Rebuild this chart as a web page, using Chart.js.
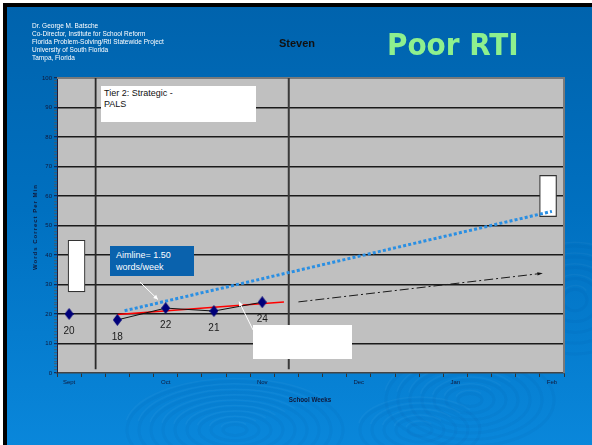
<!DOCTYPE html>
<html><head><meta charset="utf-8">
<script src="https://cdn.jsdelivr.net/npm/chart.js@4"></script>
<style>
html,body{margin:0;padding:0;background:#fff;width:592px;height:445px;overflow:hidden;}
#slide{position:absolute;left:3px;top:3px;width:600px;height:450px;border-left:4px solid #000;border-top:4px solid #000;
 background:linear-gradient(#0063ad 0%,#0070c0 45%,#0a88dc 100%);}
#bg{position:absolute;left:0;top:0;}
#c{position:absolute;left:0;top:0;}
.t{position:absolute;white-space:nowrap;font-family:"Liberation Sans",Arial,sans-serif;}
#hdr{left:32px;top:22px;color:#fff;font-size:6.5px;line-height:8px;}
#steven{left:270px;top:37px;width:54px;text-align:center;font-weight:bold;font-size:11px;color:#111;}
#poor{left:387px;top:26px;font-family:"DejaVu Sans Condensed","DejaVu Sans",sans-serif;font-stretch:condensed;font-weight:bold;font-size:31px;color:#8ef08e;}
.box{position:absolute;background:#fff;}
#tier{left:101px;top:86px;width:155px;height:36px;}
#tiertxt{left:104px;top:88px;font-size:9px;line-height:11px;color:#111;}
#aim{left:110px;top:246px;width:84px;height:30px;background:#0a62ad;}
#aimtxt{left:116px;top:249px;font-size:9px;line-height:12px;color:#fff;}
#box2{left:253px;top:325px;width:99px;height:34px;}
#xt{left:270px;top:396px;width:80px;text-align:center;font-weight:bold;font-size:6.3px;color:#10183a;}
#yt{left:-15px;top:224px;width:100px;text-align:center;font-weight:bold;font-size:6px;letter-spacing:1px;color:#10183a;transform:rotate(-90deg);transform-origin:50% 50%;}
</style></head>
<body>
<div id="slide"></div>
<canvas id="bg" width="592" height="445"></canvas>
<canvas id="c" width="592" height="445"></canvas>
<div class="box" id="tier"></div>
<div class="box" id="aim"></div>
<div class="box" id="box2"></div>
<div class="t" id="hdr">Dr. George M. Batsche<br>Co-Director, Institute for School Reform<br>Florida Problem-Solving/RtI Statewide Project<br>University of South Florida<br>Tampa, Florida</div>
<div class="t" id="steven">Steven</div>
<div class="t" id="poor">Poor RTI</div>
<div class="t" id="tiertxt">Tier 2: Strategic -<br>PALS</div>
<div class="t" id="aimtxt">Aimline= 1.50<br>words/week</div>
<div class="t" id="xt">School Weeks</div>
<div class="t" id="yt">Words Correct Per Min</div>
<script>
// ---- data ----
const weeks = ['Sept','','','','Oct','','','','Nov','','','','Dec','','','','Jan','','','','Feb'];
const baselineWeek = [0];
const baselineWcpm = [20];
const probeWeek = [2, 4, 6, 8];
const probeWcpm = [18, 22, 21, 24];
const aimWeek = [2.3, 20];
const aimWcpm = [21.1, 54.8];
const trendWeek = [2, 8.9];
const trendWcpm = [19.8, 24.1];
const projWeek = [9.5, 19.5];
const projWcpm = [24.1, 33.7];
const goalWeek = [0.31, 19.84];
const goalLow = [27.5, 53];
const goalHigh = [45, 67];
const phaseWeek = [1.1, 9.1];
const phaseSpan = [1.3, 100];
const yTicks = [0, 10, 20, 30, 40, 50, 60, 70, 80, 90, 100];

// ---- background ripples ----
(function(){
  const g = document.getElementById('bg').getContext('2d');
  function ripple(cx, cy, rmax, ratio){
    for(let r=12;r<rmax;r+=12){
      g.beginPath();g.ellipse(cx,cy,r,r*ratio,0,0,Math.PI*2);
      g.strokeStyle='rgba(0,40,110,0.045)';g.lineWidth=3;g.stroke();
      g.beginPath();g.ellipse(cx,cy-2,r+2,(r+2)*ratio,0,Math.PI*1.05,Math.PI*1.8);
      g.strokeStyle='rgba(255,255,255,0.035)';g.lineWidth=1.5;g.stroke();
    }
  }
  g.save();g.beginPath();g.rect(7,7,585,438);g.clip();
  ripple(235,430,120,0.45);
  ripple(420,430,70,0.5);
  ripple(575,300,70,0.9);
  ripple(470,400,90,0.55);
  g.restore();
})();

// diamond marker
const dia = document.createElement('canvas');
dia.width = 9; dia.height = 12;
(function(){const d=dia.getContext('2d');d.beginPath();d.moveTo(4.5,0);d.lineTo(9,6);d.lineTo(4.5,12);d.lineTo(0,6);d.closePath();d.fillStyle='#00007a';d.fill();})();

const pts = (xs, ys) => xs.map((x,i)=>({x:x, y:ys[i]}));

const xTickVals = [];
for (let v = -0.5; v <= weeks.length - 0.5 + 1e-9; v += 0.5) xTickVals.push(Math.round(v*10)/10);
const isBoundary = v => Math.abs(v - Math.round(v)) > 0.25;

const plotBg = {
  id:'plotBg',
  beforeDraw(chart){
    const {ctx, chartArea:a} = chart;
    ctx.save();ctx.fillStyle='#c0c0c0';ctx.fillRect(a.left,a.top,a.right-a.left,a.bottom-a.top);ctx.restore();
  },
  beforeDatasetsDraw(chart){
    const {ctx, chartArea:a} = chart;
    ctx.save();ctx.strokeStyle='#7a7a7a';ctx.lineWidth=2;
    ctx.beginPath();ctx.moveTo(a.left,a.top);ctx.lineTo(a.right,a.top);ctx.lineTo(a.right,a.bottom);ctx.stroke();ctx.restore();
  }
};

function arrow(ctx, x1,y1,x2,y2,color,w,head){
  ctx.save();ctx.strokeStyle=color;ctx.fillStyle=color;ctx.lineWidth=w;
  ctx.beginPath();ctx.moveTo(x1,y1);ctx.lineTo(x2,y2);ctx.stroke();
  const ang=Math.atan2(y2-y1,x2-x1);
  ctx.beginPath();ctx.moveTo(x2,y2);
  ctx.lineTo(x2-head*Math.cos(ang-0.45),y2-head*Math.sin(ang-0.45));
  ctx.lineTo(x2-head*Math.cos(ang+0.45),y2-head*Math.sin(ang+0.45));
  ctx.closePath();ctx.fill();ctx.restore();
}

// annotation arrows, in data coordinates
const arrowsData = [
  {from:[2.94,30.8], to:[3.68,24.9]},
  {from:[7.62,14.6], to:[7.04,24.2]}
];

const labelsPlugin = {
  id:'labelsPlugin',
  afterDatasetsDraw(chart){
    const {ctx, scales:{x,y}} = chart;
    ctx.save();
    ctx.font='10px "Liberation Sans", Arial';ctx.fillStyle='#1a1a1a';ctx.textAlign='center';ctx.textBaseline='middle';
    [[0, baselineWcpm],[1, probeWcpm]].forEach(([di, vals])=>{
      chart.getDatasetMeta(di).data.forEach((el,i)=>{ ctx.fillText(String(vals[i]), el.x, el.y+17); });
    });
    ctx.restore();
    arrowsData.forEach(a=>{
      arrow(ctx, x.getPixelForValue(a.from[0]), y.getPixelForValue(a.from[1]), x.getPixelForValue(a.to[0]), y.getPixelForValue(a.to[1]), '#ffffff', 1, 5);
    });
    // projection arrowhead
    const n = projWeek.length-1;
    const px2 = x.getPixelForValue(projWeek[n]), py2 = y.getPixelForValue(projWcpm[n]);
    const px1 = x.getPixelForValue(projWeek[n-1]), py1 = y.getPixelForValue(projWcpm[n-1]);
    const ang=Math.atan2(py2-py1,px2-px1);
    ctx.save();ctx.fillStyle='#111';ctx.beginPath();ctx.moveTo(px2+3*Math.cos(ang),py2+3*Math.sin(ang));
    ctx.lineTo(px2-3*Math.cos(ang-0.6),py2-3*Math.sin(ang-0.6));ctx.lineTo(px2-3*Math.cos(ang+0.6),py2-3*Math.sin(ang+0.6));ctx.closePath();ctx.fill();ctx.restore();
  }
};

new Chart(document.getElementById('c'), {
  type:'line',
  data:{
    datasets:[
      {label:'baseline', data:pts(baselineWeek, baselineWcpm), showLine:false, pointStyle:dia, pointRadius:5, order:0},
      {label:'probes', data:pts(probeWeek, probeWcpm), borderColor:'#111', borderWidth:1, pointStyle:dia, pointRadius:5, order:0},
      {label:'trend', data:pts(trendWeek, trendWcpm), borderColor:'#ff0000', borderWidth:1.5, pointRadius:0, order:1},
      {label:'aimline', data:pts(aimWeek, aimWcpm), borderColor:'#2a8fe3', borderWidth:3, borderDash:[3,2.2], borderCapStyle:'butt', pointRadius:0, order:2},
      {label:'projection', data:pts(projWeek, projWcpm), borderColor:'#1a1a1a', borderWidth:1, borderDash:[9,3,2,3], pointRadius:0, order:2},
      {label:'phase1', data:pts([phaseWeek[0],phaseWeek[0]], phaseSpan), borderColor:'#2a2a2a', borderWidth:1.8, pointRadius:0, order:5},
      {label:'phase2', data:pts([phaseWeek[1],phaseWeek[1]], phaseSpan), borderColor:'#3a3a3a', borderWidth:2, pointRadius:0, order:5},
      {type:'bar', label:'goal', data:goalWeek.map((w,i)=>({x:w, y:[goalLow[i], goalHigh[i]]})), backgroundColor:'#ffffff', borderColor:'#333', borderWidth:1.2, borderSkipped:false, barThickness:17, order:3}
    ]
  },
  options:{
    responsive:false, animation:false, devicePixelRatio:1,
    layout:{padding:{left:0, top:78, right:28, bottom:0}},
    plugins:{legend:{display:false}, tooltip:{enabled:false}},
    elements:{line:{tension:0}},
    scales:{
      x:{type:'linear', min:-0.5, max:weeks.length-0.5, offset:false,
        afterBuildTicks:s=>{ s.ticks = xTickVals.map(v=>({value:v})); },
        afterFit:s=>{ s.height = 72; },
        grid:{drawOnChartArea:false, offset:false, tickLength:4, tickColor:c=>isBoundary(c.tick.value)?'#333':'rgba(0,0,0,0)', tickWidth:1},
        border:{color:'#444', width:1.5},
        ticks:{autoSkip:false, maxRotation:0, padding:2, color:'#10183a', font:{family:'"Liberation Sans", Arial', size:6},
          callback:v=> isBoundary(v) ? '' : (weeks[Math.round(v)] || '')}
      },
      y:{type:'linear', min:0, max:100,
        ticks:{stepSize:1, autoSkip:false, padding:2, color:'#10183a', font:{family:'"Liberation Sans", Arial', size:6},
          callback:v=> yTicks.includes(v) ? String(v) : ''},
        afterFit:s=>{ s.width = 57; },
        grid:{color:c=> (yTicks.includes(c.tick.value) && c.tick.value>0 && c.tick.value<100) ? '#1a1a1a' : 'rgba(0,0,0,0)', lineWidth:1.4,
          tickLength:3, tickColor:c=> yTicks.includes(c.tick.value) ? '#1a1a3a' : '#555', tickWidth:c=> yTicks.includes(c.tick.value)?1:0.8},
        border:{color:'#1a1a3a', width:1}
      }
    }
  },
  plugins:[plotBg, labelsPlugin]
});
</script>
</body></html>
